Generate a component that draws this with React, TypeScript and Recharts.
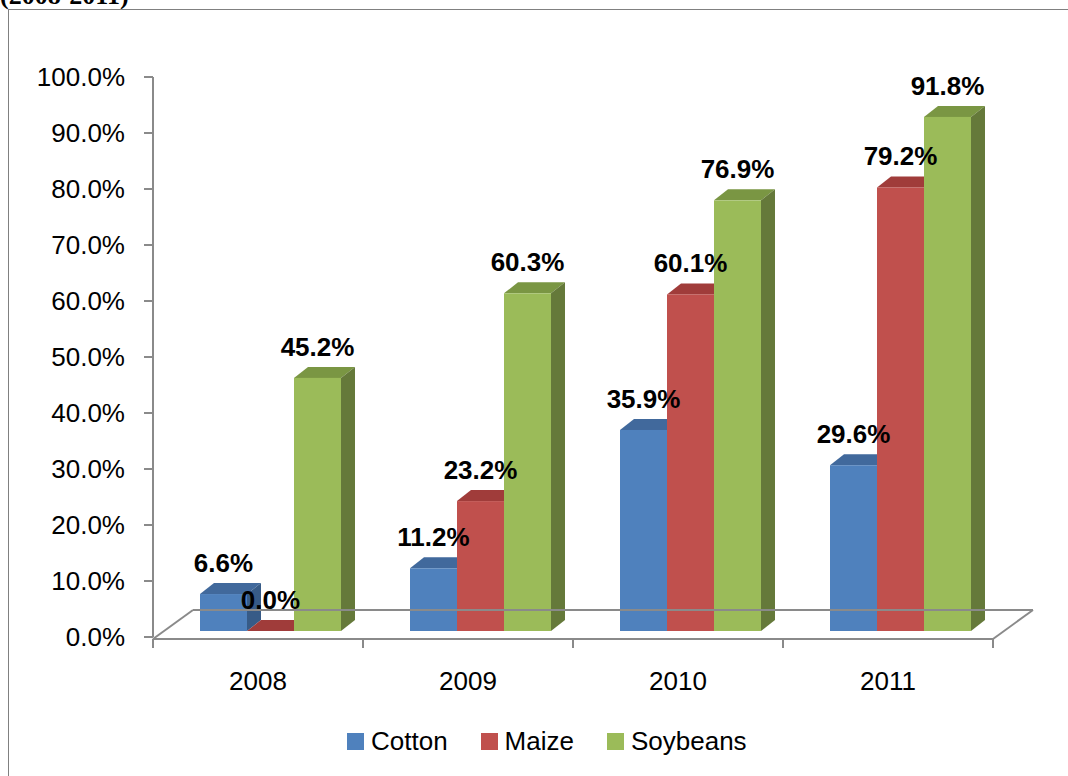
import { BarChart, Bar, XAxis, YAxis, LabelList } from 'recharts';

const CATEGORIES = ['2008', '2009', '2010', '2011'];
const COTTON = [6.6, 11.2, 35.9, 29.6];
const MAIZE = [0.0, 23.2, 60.1, 79.2];
const SOYBEANS = [45.2, 60.3, 76.9, 91.8];
const Y_TICKS = [0, 10, 20, 30, 40, 50, 60, 70, 80, 90, 100];

const SERIES = [
  { key: 'cotton', name: 'Cotton', front: '#4F81BD', top: '#41699C', side: '#375B87' },
  { key: 'maize', name: 'Maize', front: '#C0504D', top: '#A03C3A', side: '#8E3A37' },
  { key: 'soybeans', name: 'Soybeans', front: '#9BBB59', top: '#7A9643', side: '#65793A' },
];

const data = CATEGORIES.map((year, i) => ({
  year,
  cotton: COTTON[i],
  maize: MAIZE[i],
  soybeans: SOYBEANS[i],
}));

const W = 1068;
const H = 776;
const PLOT_LEFT = 153;
const PLOT_RIGHT = 993;
const PLOT_TOP = 77;
const PLOT_BOTTOM = 637;
const BAND = (PLOT_RIGHT - PLOT_LEFT) / CATEGORIES.length;

// 3d look
const DX = 14;
const DY = 11;
const SHIFT_X = 12;
const SHIFT_Y = -6;
const FLOOR_DX = 40;
const FLOOR_DY = 29;

const FONT = '"Liberation Sans", Arial, sans-serif';
const AXIS_GRAY = '#8a8a8a';

const makeShape = (top: string, side: string) => (props: any) => {
  const { x, y, width, height, fill } = props;
  const X = x + SHIFT_X;
  const Y = y + SHIFT_Y;
  const w = width;
  const h = Math.max(height, 0);
  return (
    <g>
      <polygon
        points={`${X},${Y} ${X + DX},${Y - DY} ${X + w + DX},${Y - DY} ${X + w},${Y}`}
        fill={top}
      />
      <polygon
        points={`${X + w},${Y} ${X + w + DX},${Y - DY} ${X + w + DX},${Y + h - DY} ${X + w},${Y + h}`}
        fill={side}
      />
      <rect x={X} y={Y} width={w} height={h} fill={fill} />
    </g>
  );
};

const renderLabel = (props: any) => {
  const { x, y, width, value } = props;
  return (
    <text
      x={x + SHIFT_X + width / 2}
      y={y + SHIFT_Y - 22}
      textAnchor="middle"
      fontSize={26}
      fontWeight="bold"
      fill="#000"
      fontFamily={FONT}
    >
      {Number(value).toFixed(1)}%
    </text>
  );
};

const FloorTick = (props: any) => {
  const { x, y, payload, index } = props;
  const L = x - BAND / 2;
  const R = x + BAND / 2;
  const fy = y + 2;
  const by = fy - FLOOR_DY;
  const last = index === CATEGORIES.length - 1;
  return (
    <g>
      <line x1={L} y1={fy} x2={R} y2={fy} stroke={AXIS_GRAY} strokeWidth={2} />
      <line x1={L + FLOOR_DX} y1={by} x2={R + FLOOR_DX} y2={by} stroke={AXIS_GRAY} strokeWidth={2} />
      <line x1={L} y1={fy} x2={L} y2={fy + 9} stroke={AXIS_GRAY} strokeWidth={2} />
      {index === 0 && (
        <line x1={L} y1={fy} x2={L + FLOOR_DX} y2={by} stroke={AXIS_GRAY} strokeWidth={2} />
      )}
      {last && (
        <>
          <line x1={R} y1={fy} x2={R} y2={fy + 9} stroke={AXIS_GRAY} strokeWidth={2} />
          <line x1={R} y1={fy} x2={R + FLOOR_DX} y2={by} stroke={AXIS_GRAY} strokeWidth={2} />
        </>
      )}
      <text x={x} y={y + 53} textAnchor="middle" fontSize={26} fill="#000" fontFamily={FONT}>
        {payload.value}
      </text>
    </g>
  );
};

function Legend3D() {
  return (
    <div
      style={{
        position: 'absolute',
        left: 347,
        top: 728,
        display: 'flex',
        alignItems: 'center',
        gap: 33,
        fontSize: 26,
        lineHeight: '26px',
        fontFamily: FONT,
        color: '#000',
      }}
    >
      {SERIES.map((s) => (
        <div key={s.key} style={{ display: 'flex', alignItems: 'center', gap: 7 }}>
          <span style={{ width: 17, height: 17, background: s.front, display: 'inline-block' }} />
          <span>{s.name}</span>
        </div>
      ))}
    </div>
  );
}

export default function App() {
  return (
    <div
      style={{
        position: 'absolute',
        left: 0,
        top: 0,
        width: W,
        height: H,
        overflow: 'hidden',
        background: '#fff',
        fontFamily: FONT,
      }}
    >
      <div
        style={{
          position: 'absolute',
          left: 0,
          top: -17,
          fontFamily: '"Liberation Serif", "Times New Roman", serif',
          fontWeight: 'bold',
          fontSize: 26,
          lineHeight: '26px',
          whiteSpace: 'nowrap',
        }}
      >
        (2008-2011)
      </div>
      <div
        style={{
          position: 'absolute',
          left: 8,
          top: 9,
          width: W + 20,
          height: H + 20,
          border: '1px solid #808080',
        }}
      />
      <div style={{ position: 'absolute', left: 0, top: 0 }}>
        <BarChart
          width={W}
          height={H}
          data={data}
          barGap={0}
          barSize={47}
          margin={{ top: PLOT_TOP, right: W - PLOT_RIGHT, bottom: 79, left: PLOT_LEFT - 120 }}
        >
          <XAxis
            dataKey="year"
            height={H - PLOT_BOTTOM - 79}
            axisLine={false}
            tickLine={false}
            tickSize={0}
            tickMargin={0}
            interval={0}
            tick={<FloorTick />}
          />
          <YAxis
            width={120}
            domain={[0, 100]}
            ticks={Y_TICKS}
            interval={0}
            tickFormatter={(v: number) => `${v.toFixed(1)}%`}
            axisLine={{ stroke: AXIS_GRAY, strokeWidth: 2 }}
            tickLine={{ stroke: AXIS_GRAY, strokeWidth: 2 }}
            tickSize={9}
            tickMargin={19}
            tick={{ fontSize: 26, fill: '#000', fontFamily: FONT }}
          />
          {SERIES.map((s) => (
            <Bar
              key={s.key}
              dataKey={s.key}
              name={s.name}
              fill={s.front}
              isAnimationActive={false}
              shape={makeShape(s.top, s.side)}
            >
              <LabelList dataKey={s.key} content={renderLabel} />
            </Bar>
          ))}
        </BarChart>
      </div>
      <Legend3D />
    </div>
  );
}
